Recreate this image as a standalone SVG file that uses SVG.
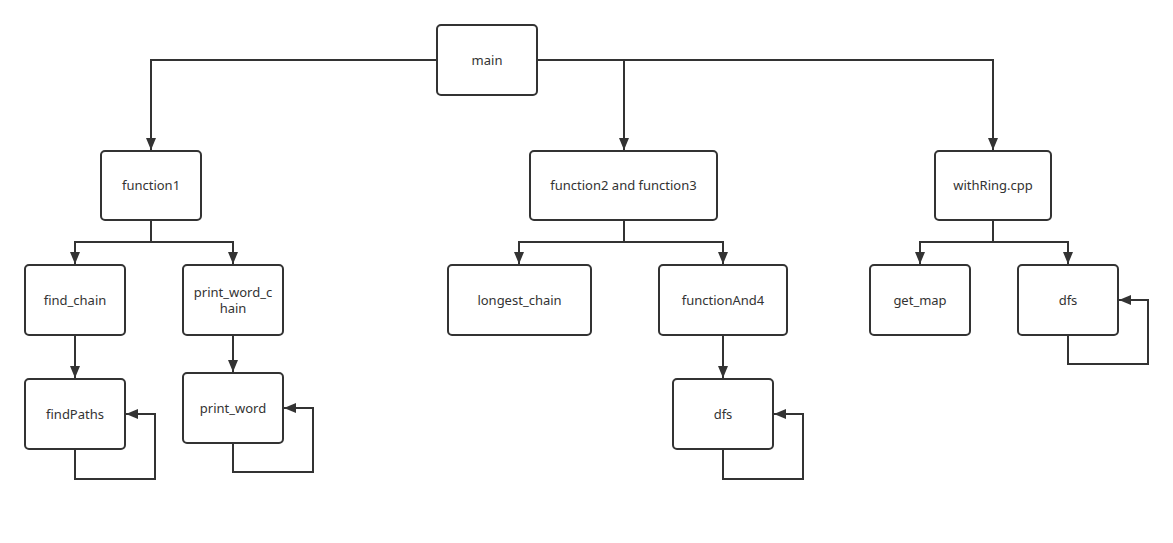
<svg xmlns="http://www.w3.org/2000/svg" width="1173" height="543" viewBox="0 0 1173 543">
<style>
.box{fill:#fff;stroke:#333;stroke-width:2}
.lbl{font-family:"Noto Sans","Liberation Sans",sans-serif;font-size:13px;fill:#333;text-anchor:middle}
.c{fill:none;stroke:#333;stroke-width:2}
</style>
<defs>
<marker id="ah" viewBox="0 0 12 10" refX="12" refY="5" markerWidth="12" markerHeight="10" markerUnits="userSpaceOnUse" orient="auto">
<path d="M0,0 L12,5 L0,10 z" fill="#333"/>
</marker>
</defs>
<rect width="1173" height="543" fill="#fff"/>
<g id="connectors">
<path class="c" d="M437,60 H151 V150" marker-end="url(#ah)"/>
<path class="c" d="M537,60 H993 V150" marker-end="url(#ah)"/>
<path class="c" d="M624,60 V150" marker-end="url(#ah)"/>
<path class="c" d="M151,220 V242 H75 V264" marker-end="url(#ah)"/>
<path class="c" d="M151,242 H233 V264" marker-end="url(#ah)"/>
<path class="c" d="M624,220 V242 H519 V264" marker-end="url(#ah)"/>
<path class="c" d="M624,242 H723 V264" marker-end="url(#ah)"/>
<path class="c" d="M993,220 V242 H920 V264" marker-end="url(#ah)"/>
<path class="c" d="M993,242 H1068 V264" marker-end="url(#ah)"/>
<path class="c" d="M75,335 V378" marker-end="url(#ah)"/>
<path class="c" d="M233,335 V372" marker-end="url(#ah)"/>
<path class="c" d="M723,335 V378" marker-end="url(#ah)"/>
<path class="c" d="M75,449 V479 H155 V414 H126" marker-end="url(#ah)"/>
<path class="c" d="M233,443 V472 H313 V408 H284" marker-end="url(#ah)"/>
<path class="c" d="M723,449 V479 H803 V414 H774" marker-end="url(#ah)"/>
<path class="c" d="M1068,335 V364 H1148 V300 H1119" marker-end="url(#ah)"/>
</g>
<g id="main"><rect class="box" x="437" y="25" width="100" height="70" rx="4"/><text class="lbl" x="487" y="65">main</text></g>
<g id="function1"><rect class="box" x="101" y="151" width="100" height="69" rx="4"/><text class="lbl" x="151" y="190">function1</text></g>
<g id="function23"><rect class="box" x="530" y="151" width="187" height="69" rx="4"/><text class="lbl" x="623.5" y="190">function2 and function3</text></g>
<g id="withRing"><rect class="box" x="935" y="151" width="116" height="69" rx="4"/><text class="lbl" x="993" y="190">withRing.cpp</text></g>
<g id="find_chain"><rect class="box" x="25" y="265" width="100" height="70" rx="4"/><text class="lbl" x="75" y="305">find_chain</text></g>
<g id="print_word_chain"><rect class="box" x="183" y="265" width="100" height="70" rx="4"/><text class="lbl" x="233" y="297">print_word_c</text><text class="lbl" x="233" y="313">hain</text></g>
<g id="longest_chain"><rect class="box" x="448" y="265" width="143" height="70" rx="4"/><text class="lbl" x="519.5" y="305">longest_chain</text></g>
<g id="functionAnd4"><rect class="box" x="659" y="265" width="128" height="70" rx="4"/><text class="lbl" x="723" y="305">functionAnd4</text></g>
<g id="get_map"><rect class="box" x="870" y="265" width="100" height="70" rx="4"/><text class="lbl" x="920" y="305">get_map</text></g>
<g id="dfs_right"><rect class="box" x="1018" y="265" width="100" height="70" rx="4"/><text class="lbl" x="1068" y="305">dfs</text></g>
<g id="findPaths"><rect class="box" x="25" y="379" width="100" height="70" rx="4"/><text class="lbl" x="75" y="419">findPaths</text></g>
<g id="print_word"><rect class="box" x="183" y="373" width="100" height="70" rx="4"/><text class="lbl" x="233" y="413">print_word</text></g>
<g id="dfs_mid"><rect class="box" x="673" y="379" width="100" height="70" rx="4"/><text class="lbl" x="723" y="419">dfs</text></g>
</svg>
